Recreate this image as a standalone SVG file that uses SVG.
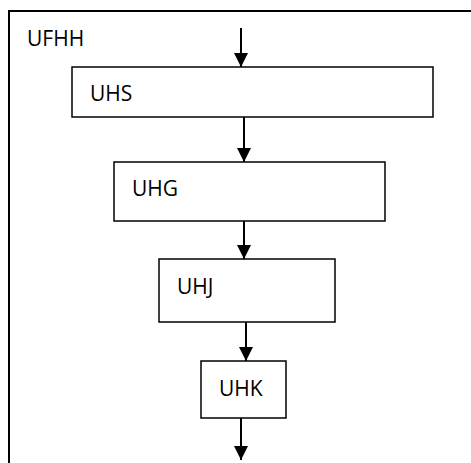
<svg xmlns="http://www.w3.org/2000/svg" width="471" height="463" viewBox="0 0 471 463">
<defs>
<marker id="ah" markerWidth="14" markerHeight="14" refX="14" refY="7" orient="auto" markerUnits="userSpaceOnUse" viewBox="0 0 14 14">
<path d="M0,0 L14,7 L0,14 Z" fill="#000"/>
</marker>
<style>
.box{fill:#fff;stroke:#000;stroke-width:1.5}
.lbl{font-family:"Open Sans","Noto Sans",sans-serif;font-size:21px;fill:#000}
.conn{stroke:#000;stroke-width:2;fill:none;marker-end:url(#ah)}
</style>
</defs>
<rect width="471" height="463" fill="#fff"/>
<g id="frame">
<path d="M9,463 V11 H471" fill="none" stroke="#000" stroke-width="2"/>
<text class="lbl" x="27" y="46">UFHH</text>
</g>
<g id="connectors">
<line class="conn" x1="241" y1="28" x2="241" y2="67"/>
<line class="conn" x1="244" y1="117" x2="244" y2="162"/>
<line class="conn" x1="244" y1="221" x2="244" y2="259"/>
<line class="conn" x1="246" y1="322" x2="246" y2="361"/>
<line class="conn" x1="241" y1="418" x2="241" y2="460"/>
</g>
<g id="UHS">
<rect class="box" x="72" y="67" width="361" height="50"/>
<text class="lbl" x="90" y="101">UHS</text>
</g>
<g id="UHG">
<rect class="box" x="114" y="162" width="271" height="59"/>
<text class="lbl" x="132" y="196">UHG</text>
</g>
<g id="UHJ">
<rect class="box" x="159" y="259" width="176" height="63"/>
<text class="lbl" x="177" y="294">UHJ</text>
</g>
<g id="UHK">
<rect class="box" x="201" y="361" width="85" height="57"/>
<text class="lbl" x="219" y="396">UHK</text>
</g>
</svg>
